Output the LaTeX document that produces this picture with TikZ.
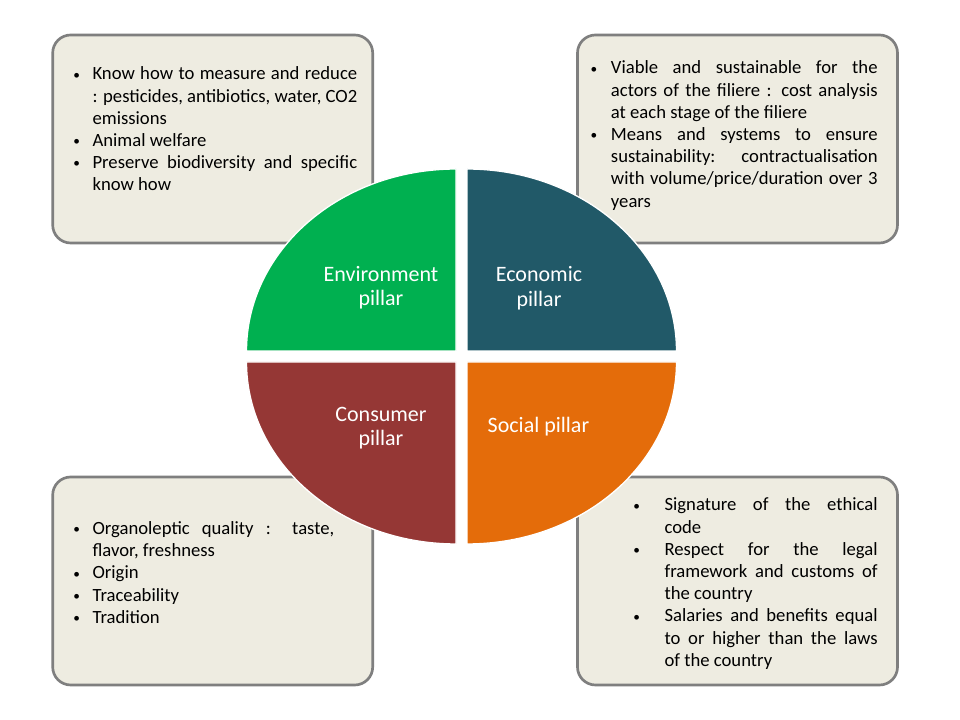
\documentclass[tikz,border=0pt]{standalone}
\usepackage{fontspec}
\setmainfont{Carlito}
\usepackage{xcolor}
\definecolor{boxfill}{HTML}{EEECE1}
\definecolor{boxline}{HTML}{7F7F7F}
\definecolor{envgreen}{HTML}{00B050}
\definecolor{ecoteal}{HTML}{215968}
\definecolor{conred}{HTML}{953735}
\definecolor{socorange}{HTML}{E46C0A}

\hyphenpenalty=10000
\exhyphenpenalty=10000
\tolerance=10000
\newlength\bhang
\newlength\bsep
\newcommand{\smallbullet}{{\fontsize{10pt}{10pt}\selectfont\raisebox{0.6pt}{\textbullet}}}
\newcommand{\bitem}{\par\noindent\hangindent=\bhang\hangafter=1\hbox to\bhang{\hss\smallbullet\hskip\bsep}\strut\ignorespaces}

\begin{document}
\begin{tikzpicture}[x=0.75pt, y=0.75pt,
    infobox/.style={draw=boxline, line width=2pt, fill=boxfill, rounded corners=13.5pt,
        minimum width=240pt, minimum height=156pt, inner sep=0pt},
    bodytext/.style={anchor=north west, inner sep=0pt, align=justify,
        font=\fontsize{14pt}{16.65pt}\selectfont},
    pillar/.style={text=white, align=center, inner sep=0pt,
        font=\fontsize{16.5pt}{18.5pt}\selectfont},
    quarter/.style={draw=white, line width=1pt}]
    \fill[white] (0,0) rectangle (960,720);
    \useasboundingbox (0,0) rectangle (960,720);
    % Boxes
    \foreach \name/\x/\y in {envbox/212.7/581, ecobox/737.5/581, conbox/212.7/139, socbox/737.5/139} {
        \node[infobox] (\name) at (\x,\y) {};
    }
    % Box texts
    \node[bodytext, text width=213.5pt] (envtext) at (72.3,662.5) {%
        \setlength\bhang{15pt}\setlength\bsep{9.5pt}%
        \bitem Know how to measure and reduce\linebreak : pesticides, antibiotics, water, CO2\linebreak emissions
        \bitem Animal welfare
        \bitem Preserve biodiversity and specific\linebreak know how\par};
    \node[bodytext, text width=215pt] (ecotext) at (590.7,668.5) {%
        \setlength\bhang{15pt}\setlength\bsep{10.2pt}%
        \bitem Viable and sustainable for the\linebreak actors of the filiere : cost analysis\linebreak at each stage of the filiere
        \bitem Means and systems to ensure\linebreak sustainability: contractualisation\linebreak with volume/price/duration over 3\linebreak years\par};
    \node[bodytext, text width=196.3pt] (context) at (72.3,208) {%
        \setlength\bhang{15pt}\setlength\bsep{9.5pt}%
        \bitem Organoleptic quality : taste,\linebreak flavor, freshness
        \bitem Origin
        \bitem Traceability
        \bitem Tradition\par};
    \node[bodytext, text width=182.3pt] (soctext) at (634.3,231.5) {%
        \setlength\bhang{22.5pt}\setlength\bsep{18.5pt}%
        \bitem Signature of the ethical\linebreak code
        \bitem Respect for the legal\linebreak framework and customs of\linebreak the country
        \bitem Salaries and benefits equal\linebreak to or higher than the laws\linebreak of the country\par};
    % Quarters of the ellipse
    \draw[quarter, fill=envgreen] (456,369) -- (246.5,369) arc[start angle=180, end angle=90, x radius=209.5, y radius=182] -- cycle;
    \draw[quarter, fill=ecoteal] (467,369) -- (467,551) arc[start angle=90, end angle=0, x radius=209.5, y radius=182] -- cycle;
    \draw[quarter, fill=conred] (456,358) -- (456,176) arc[start angle=270, end angle=180, x radius=209.5, y radius=182] -- cycle;
    \draw[quarter, fill=socorange] (467,358) -- (676.5,358) arc[start angle=0, end angle=-90, x radius=209.5, y radius=182] -- cycle;
    % Pillar labels
    \node[pillar] (envlabel) at (381,432.4) {Environment\\pillar};
    \node[pillar] (ecolabel) at (539,431.5) {Economic\\pillar};
    \node[pillar] (conlabel) at (381,292) {Consumer\\pillar};
    \node[pillar] (soclabel) at (538.5,293.2) {Social pillar};
\end{tikzpicture}
\end{document}
